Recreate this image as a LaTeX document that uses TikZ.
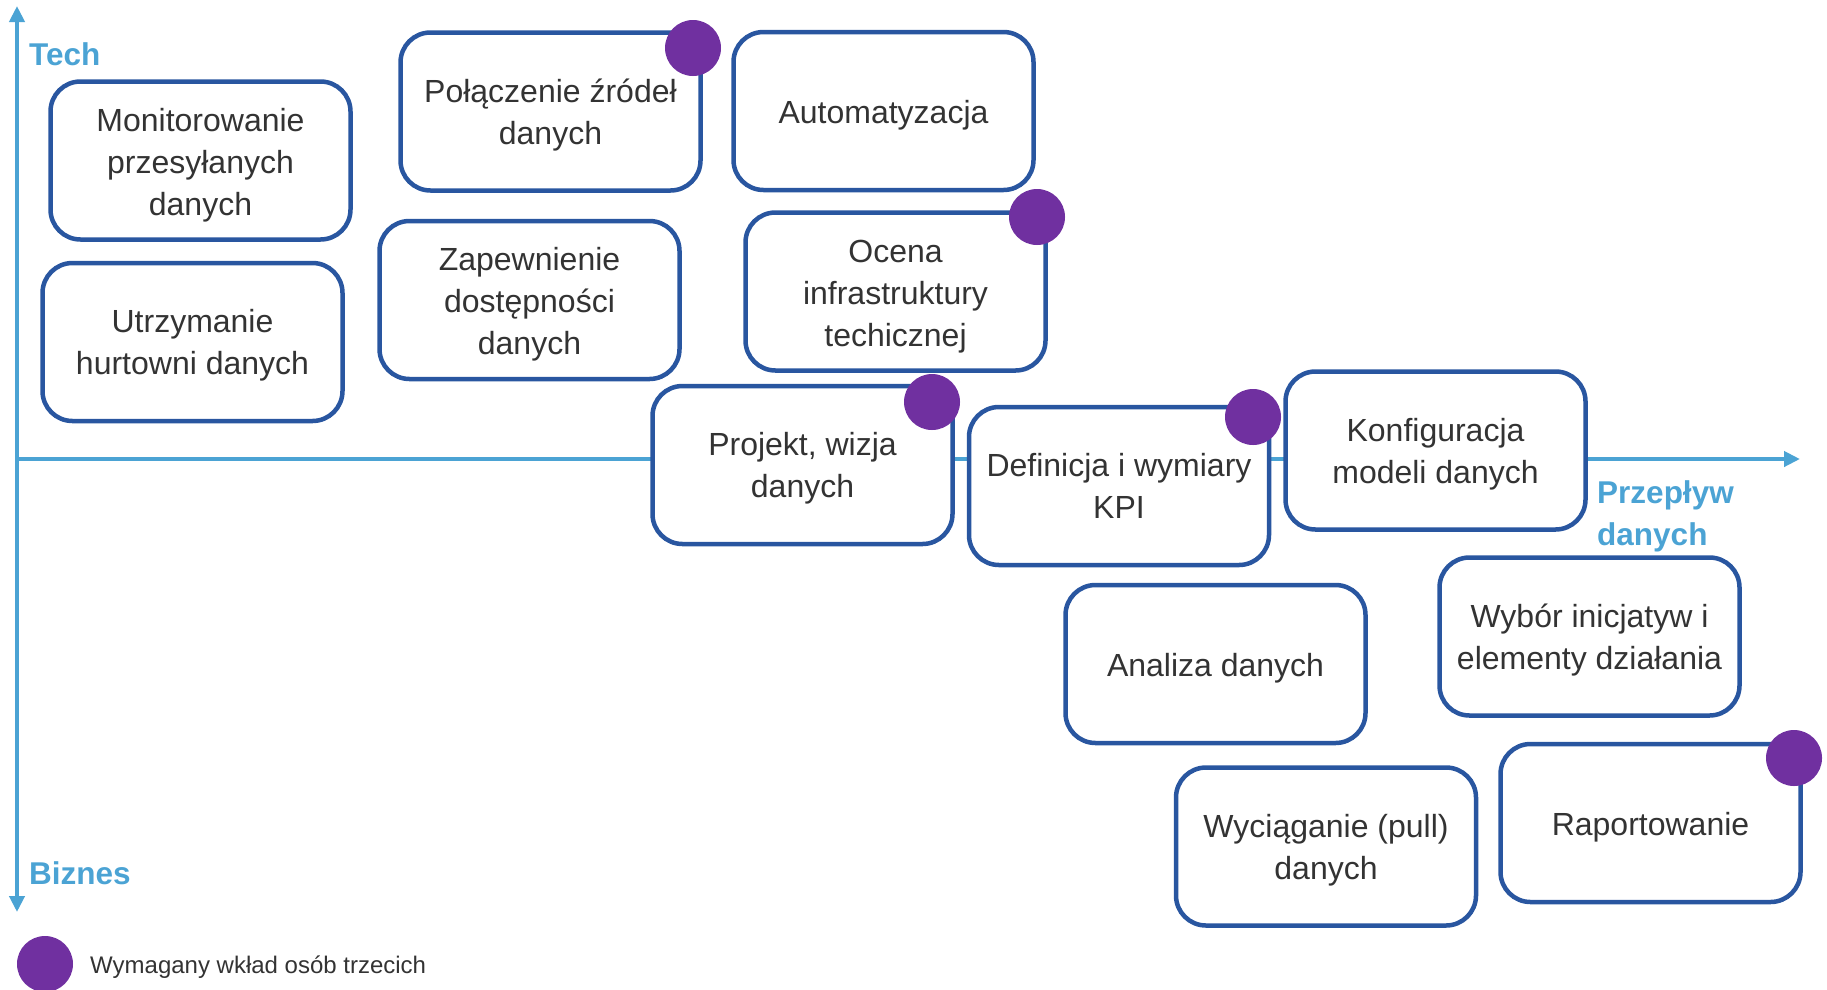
\documentclass[tikz,border=0pt]{standalone}
\usepackage{fontspec}
\setmainfont{Liberation Sans}
\usetikzlibrary{arrows.meta}
\definecolor{axisblue}{RGB}{75,163,212}
\definecolor{boxblue}{RGB}{41,86,160}
\definecolor{dotpurple}{RGB}{112,48,160}
\definecolor{txtgray}{RGB}{51,51,51}

\begin{document}
\begin{tikzpicture}[x=1pt,y=-1pt,
  stepbox/.style={draw=boxblue, line width=4.5pt, fill=white, rounded corners=30pt,
    minimum width=300pt, minimum height=158pt, align=center, text=txtgray,
    font=\fontsize{32}{42}\selectfont, inner sep=0pt},
  % fixed text box extents per number of lines, so the text sits as in the line layout
  oneline/.style={text height=31.6pt, text depth=7pt},
  twolines/.style={text height=72pt, text depth=7pt},
  threelines/.style={text height=116pt, text depth=7pt},
  thirdparty/.style={circle, fill=dotpurple, minimum size=56pt, inner sep=0pt},
  axislabel/.style={text=axisblue, font=\bfseries\fontsize{31.5}{42}\selectfont,
    inner sep=0pt, align=left},
  axisline/.style={draw=axisblue, line width=4pt},
  axistip/.style={-{Triangle[width=15pt,length=16pt]}}
]
\useasboundingbox (0,0) rectangle (1827,989);

% axes
\coordinate (origin) at (17,459);
\coordinate (techend) at (17,6);
\coordinate (bizend) at (17,912);
\coordinate (flowend) at (1800,459);
\draw[axisline, {Triangle[width=15pt,length=16pt]}-{Triangle[width=15pt,length=16pt]}] (techend) -- (bizend);
\draw[axisline, axistip] (origin) -- (flowend);

\node[axislabel, anchor=base west] (tech) at (29,65) {Tech};
\node[axislabel, anchor=base west] (biz) at (29,884) {Biznes};
\node[axislabel, anchor=base west] (flow) at (1597,545) {Przepływ\\danych};

% activity boxes
\node[stepbox, threelines] (mon)  at (200.5,160.5) {Monitorowanie\\przesyłanych\\danych};
\node[stepbox, twolines]   (utrz) at (192.5,342)   {Utrzymanie\\hurtowni danych};
\node[stepbox, twolines]   (pol)  at (550.5,111.5) {Połączenie źródeł\\danych};
\node[stepbox, oneline]    (auto) at (883.5,111)   {Automatyzacja};
\node[stepbox, threelines] (zap)  at (529.5,300)   {Zapewnienie\\dostępności\\danych};
\node[stepbox, threelines] (oc)   at (895.5,291.5) {Ocena\\infrastruktury\\techicznej};
\node[stepbox, twolines]   (proj) at (802.5,465)   {Projekt, wizja\\danych};
\node[stepbox, twolines]   (def)  at (1119,486)    {Definicja i wymiary\\KPI};
\node[stepbox, twolines]   (konf) at (1435.5,450.5){Konfiguracja\\modeli danych};
\node[stepbox, twolines]   (wyb)  at (1589.5,636.5){Wybór inicjatyw i\\elementy działania};
\node[stepbox, oneline]    (anal) at (1215.5,664)  {Analiza danych};
\node[stepbox, twolines]   (wyc)  at (1326,846.5)  {Wyciąganie (pull)\\danych};
\node[stepbox, oneline]    (rap)  at (1650.5,823)  {Raportowanie};

% third-party markers
\node[thirdparty] (polDot)  at (693,48)   {};
\node[thirdparty] (ocDot)   at (1037,217) {};
\node[thirdparty] (projDot) at (932,402)  {};
\node[thirdparty] (defDot)  at (1253,417) {};
\node[thirdparty] (rapDot)  at (1794,758) {};

% legend
\node[thirdparty] (legDot) at (45,964) {};
\node[anchor=base west, inner sep=0pt, text=txtgray, font=\fontsize{24}{28}\selectfont]
  (legText) at (90,973) {Wymagany wkład osób trzecich};
\end{tikzpicture}
\end{document}
